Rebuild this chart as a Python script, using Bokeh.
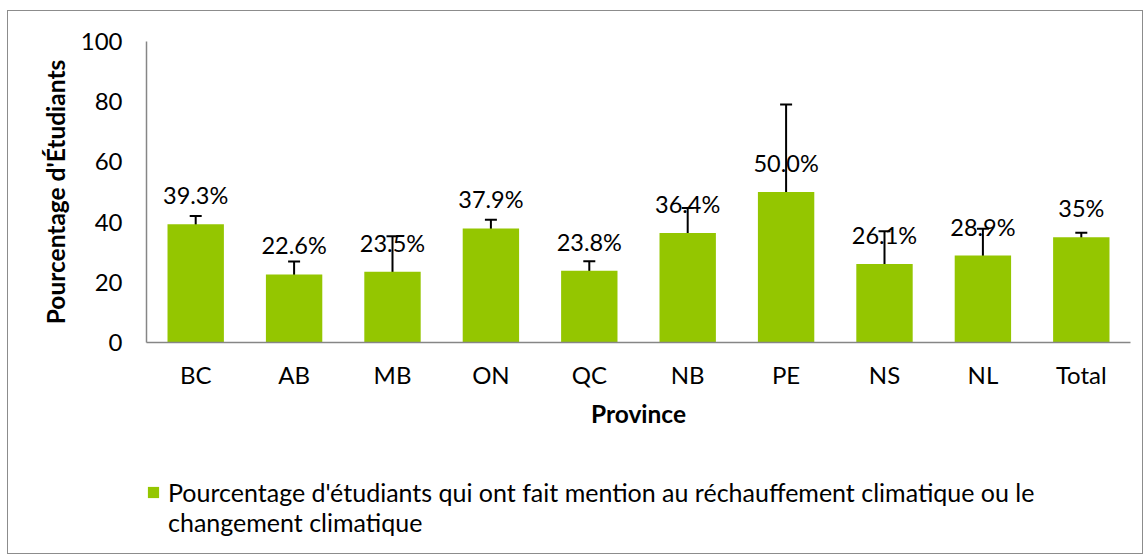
from bokeh.plotting import figure
from bokeh.layouts import column
from bokeh.models import (ColumnDataSource, Range1d, FactorRange, Whisker, TeeHead,
                          Legend, LegendItem, FixedTicker)
from bokeh.core.properties import value
from bokeh.embed import file_html
from bokeh.resources import INLINE

provinces = ["BC", "AB", "MB", "ON", "QC", "NB", "PE", "NS", "NL", "Total"]
percent = [39.3, 22.6, 23.5, 37.9, 23.8, 36.4, 50.0, 26.1, 28.9, 35.0]
pct_labels = ["39.3%", "22.6%", "23.5%", "37.9%", "23.8%", "36.4%", "50.0%", "26.1%", "28.9%", "35%"]
ci_low = [37.0, 18.7, 11.7, 35.5, 21.0, 28.6, 21.4, 15.7, 20.4, 33.8]
ci_high = [42.0, 26.9, 35.3, 40.8, 27.0, 44.7, 79.1, 37.0, 37.8, 36.5]
y_ticks = [0, 20, 40, 60, 80, 100]
legend_line1 = "Pourcentage d'étudiants qui ont fait mention au réchauffement climatique ou le"
legend_line2 = "changement climatique"

FONT = "Lato"
GREEN = "#94C600"
AXIS_GRAY = "#868686"

src = ColumnDataSource(dict(x=provinces, top=percent, lbl=pct_labels, lo=ci_low, hi=ci_high))

p = figure(width=1134, height=440, output_backend="svg", toolbar_location=None,
           x_range=FactorRange(*provinces, range_padding=0), y_range=Range1d(0, 100),
           min_border_left=138, min_border_right=12, min_border_top=30, min_border_bottom=109)
p.outline_line_color = None
p.xgrid.visible = False
p.ygrid.visible = False

bars = p.vbar(x="x", top="top", width=0.573, source=src, fill_color=GREEN, line_color=None)

p.add_layout(Whisker(base="x", upper="hi", lower="lo", source=src, line_color="black", line_width=2,
                     upper_head=TeeHead(size=12, line_width=2, line_color="black"),
                     lower_head=TeeHead(size=12, line_width=2, line_color="black")))

p.text(x="x", y="top", text="lbl", source=src, text_align="center", text_baseline="middle",
       y_offset=-29, text_font=value(FONT), text_font_size="23.5px", text_color="black")

for ax in (p.xaxis[0], p.yaxis[0]):
    ax.axis_line_color = AXIS_GRAY
    ax.axis_line_width = 1.5
    ax.major_tick_line_color = None
    ax.minor_tick_line_color = None
    ax.major_tick_out = 0
    ax.major_tick_in = 0
    ax.major_label_text_font = FONT
    ax.major_label_text_font_size = "24px"
    ax.major_label_text_color = "black"
    ax.axis_label_text_font = FONT
    ax.axis_label_text_font_style = "bold"
    ax.axis_label_text_font_size = "24.5px"
    ax.axis_label_text_color = "black"

p.yaxis.ticker = FixedTicker(ticks=y_ticks)
p.yaxis.major_label_standoff = 24
p.yaxis.axis_label = "Pourcentage d'Étudiants"
p.yaxis.axis_label_standoff = 8
p.xaxis.major_label_standoff = 17
p.xaxis.axis_label = "Province"
p.xaxis.axis_label_standoff = 7

# legend strip below the chart (its frame is aligned with the chart frame by the column layout)
p2 = figure(width=1134, height=102, output_backend="svg", toolbar_location=None,
            x_range=Range1d(0, 1), y_range=Range1d(0, 1), x_axis_type=None, y_axis_type=None,
            min_border=0, min_border_left=0, min_border_right=0, min_border_top=0, min_border_bottom=0)
p2.outline_line_color = None
p2.xgrid.visible = False
p2.ygrid.visible = False
# zero-size placeholder renderers that only supply the legend swatches
swatch = p2.vbar(x=[0], top=[0], width=0, fill_color=GREEN, line_color=None)
blank = p2.vbar(x=[0], top=[0], width=0, fill_alpha=0, line_alpha=0)

legend = Legend(items=[LegendItem(label=legend_line1, renderers=[swatch]),
                       LegendItem(label=legend_line2, renderers=[blank])],
                location=(0, 16), orientation="vertical",
                glyph_width=14, glyph_height=14, label_standoff=8, label_height=30,
                label_text_font=FONT, label_text_font_size="25px", label_text_color="black",
                border_line_color=None, background_fill_alpha=0, padding=0, margin=0, spacing=0)
p2.add_layout(legend, "center")

layout = column(p, p2, spacing=0,
                styles={"border": "1px solid #8c8c8c", "margin-left": "7px", "margin-top": "10px"})

open("out.html", "w").write(file_html(layout, INLINE))
